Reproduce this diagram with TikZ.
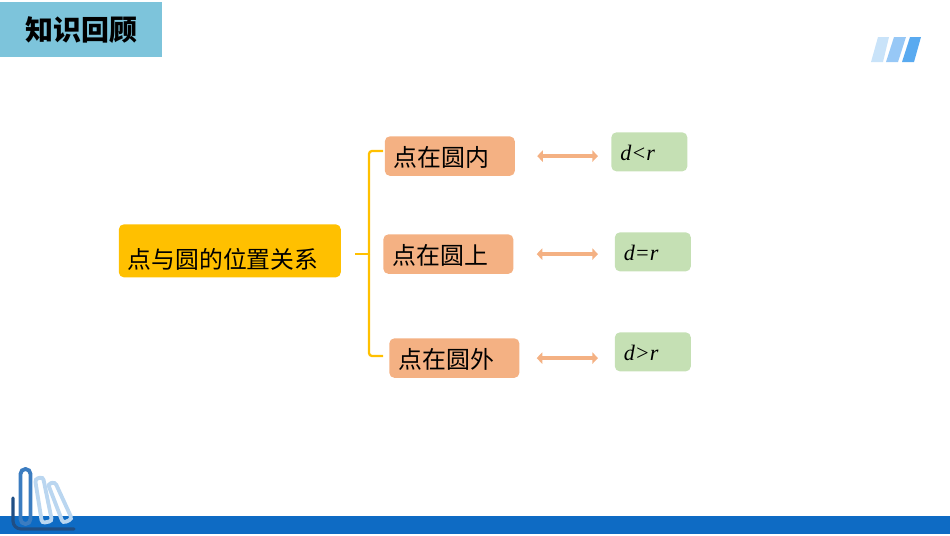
\documentclass[tikz,border=0pt]{standalone}
\usepackage{fontspec}
\newfontfamily\cjk{Noto Sans CJK SC}
\newfontfamily\latinserif{Liberation Serif}
\usetikzlibrary{arrows.meta}
\definecolor{titleblue}{HTML}{7DC4DB}
\definecolor{barblue}{HTML}{0E6BC4}
\definecolor{rootyellow}{HTML}{FFC000}
\definecolor{caseorange}{HTML}{F4B183}
\definecolor{relgreen}{HTML}{C5E0B4}
\definecolor{stripeone}{HTML}{C9E3F9}
\definecolor{stripetwo}{HTML}{97C8F6}
\definecolor{stripethree}{HTML}{59AAF0}
\definecolor{booklight}{HTML}{BAD6F0}
\definecolor{bookmid}{HTML}{3B7CC0}
\definecolor{bookdark}{HTML}{1F4E85}
\tikzset{
  box/.style={anchor=north west, rounded corners=0.1cm, inner xsep=0.18cm, inner ysep=0pt, align=left},
  rootbox/.style={box, fill=rootyellow, text width=4.08cm, text height=0.88cm, text depth=0.18cm, font=\cjk\fontsize{13.55}{16}\selectfont},
  casebox/.style={box, fill=caseorange, text width=2.24cm, text height=0.6cm, text depth=0.19cm, font=\cjk\fontsize{13.6}{16}\selectfont},
  relbox/.style={box, fill=relgreen, text width=1.16cm, text height=0.56cm, text depth=0.22cm, font=\latinserif\itshape\fontsize{12.6}{15}\selectfont},
  bracket/.style={draw=rootyellow, line width=1.3pt, rounded corners=0.06cm},
  twoway/.style 2 args={draw=caseorange, line width=2.6pt, {Triangle[length=3.2pt,width=6.4pt]}-{Triangle[length=3.2pt,width=6.4pt]}, shorten <=#1cm, shorten >=#2cm},
  bookline/.style={line width=2.2pt, rounded corners=0.06cm}
}
\begin{document}
\begin{tikzpicture}[x=0.02cm, y=-0.02cm]
    \useasboundingbox (0,0) rectangle (950,535);

    % Bottom bar
    \fill[barblue] (0,516) rectangle (950,534);

    % Title
    \node[fill=titleblue, anchor=north west, minimum width=3.24cm, minimum height=1.1cm, inner sep=0pt, font=\cjk\bfseries\fontsize{15.9}{18}\selectfont] (title) at (0,2) {知识回顾};

    % Stripes in the upper corner
    \fill[stripeone] (871,62) -- (878,37) -- (889,37) -- (883,62) -- cycle;
    \fill[stripetwo] (886,62) -- (894,37) -- (906,37) -- (898,62) -- cycle;
    \fill[stripethree] (902,62) -- (910,37) -- (921,37) -- (914,62) -- cycle;

    % Books in the lower corner
    \draw[bookline, draw=booklight] (35,479) -- (43,477) -- (52,521) -- (42,523) -- cycle;
    \draw[bookline, draw=booklight] (48,484) -- (55,482) -- (72,519) -- (63,523) -- cycle;
    \draw[bookline, draw=bookmid, rounded corners=0.1cm] (20.5,469) rectangle (30.5,524);
    \draw[line width=1.8pt, draw=bookdark, line cap=round, rounded corners=0.16cm] (13,498) -- (13,529) -- (74,529);

    % Main node
    \node[rootbox] (root) at (118.5,224) {点与圆的位置关系};

    % Three cases
    \node[casebox] (inside) at (384.5,136) {点在圆内};
    \node[casebox] (onit) at (383,234) {点在圆上};
    \node[casebox] (outside) at (389,338) {点在圆外};

    % Relations
    \node[relbox] (dless) at (611,132) {d<r};
    \node[relbox] (dequal) at (614.5,232) {d=r};
    \node[relbox] (dmore) at (614.5,332) {d>r};

    % Bracket
    \coordinate (stub) at (355,254);
    \coordinate (fork) at (369,254);
    \coordinate (topend) at (383,151);
    \coordinate (lowend) at (383,356);
    \draw[bracket] (stub) -- (fork);
    \draw[bracket] (topend) -| (fork);
    \draw[bracket] (lowend) -| (fork);

    % Double arrows
    \draw[twoway={0.44}{0.26}, yshift=-0.01cm] (inside.east) -- (inside.east -| dless.west);
    \draw[twoway={0.46}{0.33}, yshift=-0.02cm] (onit.east) -- (onit.east -| dequal.west);
    \draw[twoway={0.34}{0.33}] (outside.east) -- (outside.east -| dmore.west);

\end{tikzpicture}
\end{document}
